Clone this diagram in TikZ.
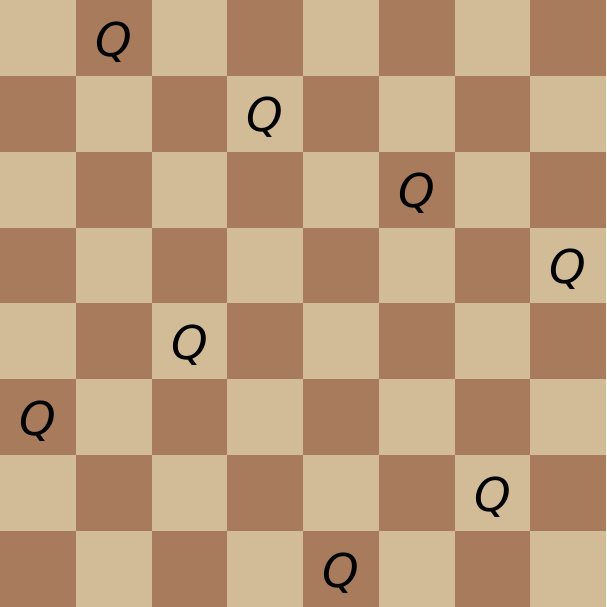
\documentclass[tikz,border=0pt]{standalone}
\usepackage{fontspec}
\newfontfamily\qfont{DejaVu Sans}
\definecolor{lightsq}{RGB}{210,188,152}
\definecolor{darksq}{RGB}{167,123,92}
\tikzset{
  lsq/.style={fill=lightsq,draw=none},
  dsq/.style={fill=darksq,draw=none},
  queen/.style={font=\qfont\itshape\fontsize{17.5}{17.5}\selectfont, text=black, inner sep=0pt}
}
\begin{document}
\begin{tikzpicture}[x=1cm,y=1cm]
\useasboundingbox (0,0) rectangle (8,8.013);
\foreach \r in {0,...,7}{
  \foreach \c in {0,...,7}{
    \pgfmathtruncatemacro{\parity}{mod(\r+\c,2)}
    \ifnum\parity=0
      \fill[lsq] (\c,{8.013-\r*8.013/8}) rectangle ++(1,{-8.013/8});
    \else
      \fill[dsq] (\c,{8.013-\r*8.013/8}) rectangle ++(1,{-8.013/8});
    \fi
  }
}
\foreach \r/\c [count=\i] in {0/1,1/3,2/5,3/7,4/2,5/0,6/6,7/4}{
  \node[queen] (q\i) at ({\c+0.5},{8.013-(\r+0.5)*8.013/8-0.05}) {Q};
}
\end{tikzpicture}
\end{document}
